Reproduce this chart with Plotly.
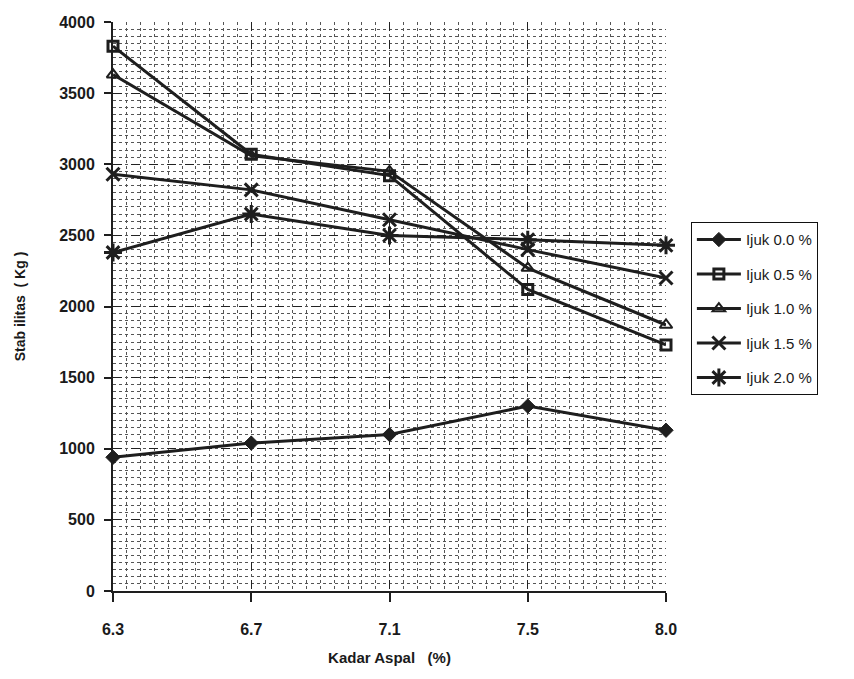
import plotly.graph_objects as go

categories = ["6.3", "6.7", "7.1", "7.5", "8.0"]
ijuk_00 = [940, 1040, 1100, 1300, 1130]
ijuk_05 = [3830, 3070, 2920, 2120, 1730]
ijuk_10 = [3630, 3060, 2950, 2270, 1870]
ijuk_15 = [2930, 2820, 2610, 2400, 2200]
ijuk_20 = [2380, 2650, 2500, 2470, 2430]
y_ticks = [0, 500, 1000, 1500, 2000, 2500, 3000, 3500, 4000]

series = [
    ("Ijuk 0.0 %", ijuk_00, "diamond", 11, 1),
    ("Ijuk 0.5 %", ijuk_05, "square-open", 10, 3),
    ("Ijuk 1.0 %", ijuk_10, "triangle-up-open", 11, 2),
    ("Ijuk 1.5 %", ijuk_15, "x-thin-open", 13, 3),
    ("Ijuk 2.0 %", ijuk_20, "asterisk-open", 15, 3),
]

xs = list(range(len(categories)))
ink = "#1e1e1e"
fam = "Liberation Sans, Arial, sans-serif"

fig = go.Figure()
for i, (name, vals, sym, size, lw) in enumerate(series):
    fig.add_trace(go.Scatter(
        x=xs, y=vals, name=name, mode="lines+markers", legendgroup=f"g{i}",
        line=dict(color=ink, width=3),
        marker=dict(symbol=sym, size=size, color=ink, line=dict(color=ink, width=lw)),
        cliponaxis=False,
    ))

fig.update_layout(
    width=854, height=679,
    margin=dict(l=113, r=188, t=22, b=88),
    paper_bgcolor="white", plot_bgcolor="white",
    font=dict(family=fam, color="#1a1a1a"),
    showlegend=True,
    legend=dict(
        x=1.045, y=0.648, xanchor="left", yanchor="top",
        bordercolor="#111", borderwidth=1,
        font=dict(size=15, family=fam, color="#1a1a1a"),
        tracegroupgap=12, itemwidth=44,
    ),
    xaxis=dict(
        range=[0, 4], tickmode="array", tickvals=xs, ticktext=categories,
        automargin=False,
        showline=True, linecolor=ink, linewidth=2,
        ticks="outside", ticklen=9, tickcolor=ink, tickwidth=2,
        ticklabelstandoff=14,
        showgrid=True, gridcolor="#222", griddash="dash", gridwidth=1,
        minor=dict(dtick=0.1, showgrid=True, gridcolor="#555", griddash="dot", gridwidth=1, tick0=0),
        tickfont=dict(size=16, family=fam, color="#1a1a1a", weight="bold"),
        title=dict(text="<b>Kadar Aspal   (%)</b>", font=dict(size=15), standoff=15),
        zeroline=False,
    ),
    yaxis=dict(
        range=[0, 4000], tickmode="array", tickvals=y_ticks,
        automargin=False,
        showline=True, linecolor=ink, linewidth=2,
        ticks="outside", ticklen=7, tickcolor=ink, tickwidth=2,
        ticklabelstandoff=6,
        showgrid=True, gridcolor="#222", griddash="dash", gridwidth=1,
        minor=dict(dtick=50, showgrid=True, gridcolor="#555", griddash="dot", gridwidth=1),
        tickfont=dict(size=16, family=fam, color="#1a1a1a", weight="bold"),
        title=dict(text="<b>Stab ilitas  ( Kg )</b>", font=dict(size=14), standoff=30),
        zeroline=False,
    ),
)

fig.write_html("out.html")
